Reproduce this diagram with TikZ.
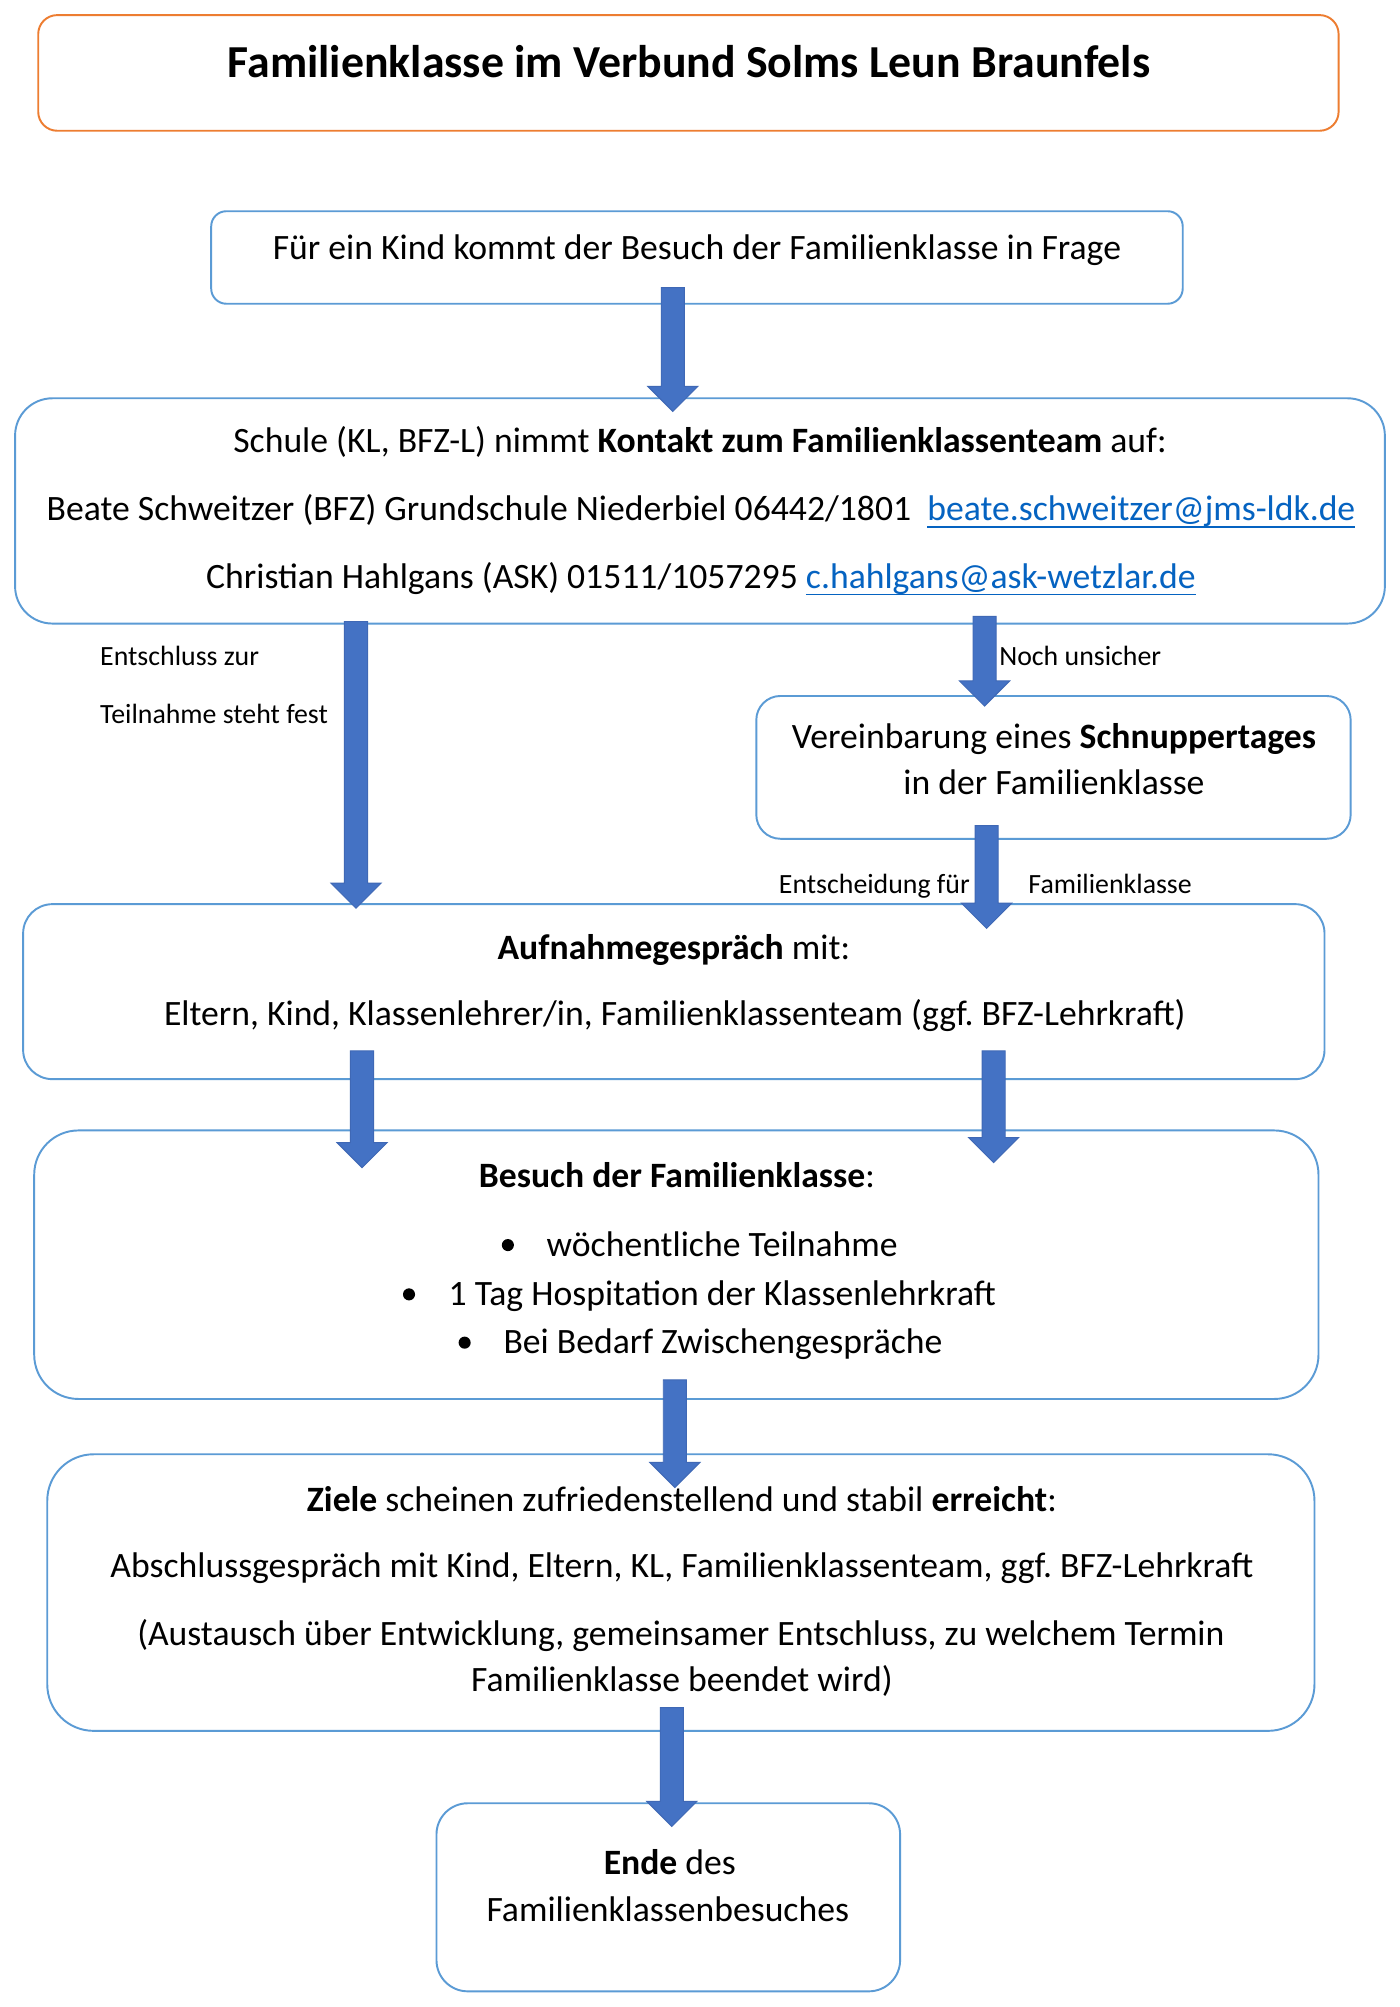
\documentclass[tikz,border=0pt]{standalone}
\usepackage{fontspec}
\setmainfont{Carlito}
\usetikzlibrary{calc}
\newcommand\pxu{0.3125pt}
\definecolor{boxblue}{HTML}{5B9BD5}
\definecolor{titleorange}{HTML}{ED7D31}
\definecolor{arrowfill}{HTML}{4472C4}
\definecolor{arrowline}{HTML}{3F68B5}
\definecolor{linkblue}{HTML}{0563C1}
\newcommand\maillink[1]{{\color{linkblue}\setbox0\hbox{#1}\rlap{\rule[-2.2pt]{\wd0}{0.6pt}}\box0}}
\frenchspacing
\begin{document}
\frenchspacing
\begin{tikzpicture}[x=0.3125pt,y=-0.3125pt,
  frame/.style n args={3}{draw=boxblue, line width=0.6pt, rounded corners=#3,
     minimum width=#1*\pxu, minimum height=#2*\pxu, inner sep=0pt, fill=white},
  body/.style={anchor=base, inner sep=0pt, font=\fontsize{11.08pt}{13.4pt}\selectfont},
  bodyw/.style={body, anchor=base west},
  bulletdot/.style={circle, fill=black, inner sep=0pt, minimum size=12*\pxu},
  lbl/.style={anchor=base west, inner sep=0pt, font=\fontsize{8.65pt}{10pt}\selectfont},
  titletext/.style={anchor=base, inner sep=0pt, font=\fontsize{14.23pt}{17pt}\selectfont\bfseries},
  blockarrow/.style={fill=arrowfill, draw=arrowline, line width=0.3pt,
    to path={let \p1=(\tikztostart), \p2=(\tikztotarget) in
      (\x1-3.6pt,\y1) -- (\x1-3.6pt,\y2+7.8pt) -- (\x1-7.8pt,\y2+7.8pt) -- (\x1,\y2)
      -- (\x1+7.8pt,\y2+7.8pt) -- (\x1+3.6pt,\y2+7.8pt) -- (\x1+3.6pt,\y1) -- cycle}}
]
\fill[white] (0,0) rectangle (1392,1995.6);
\useasboundingbox (0,0) rectangle (1392,1995.6);

% boxes
\node[frame={1293}{115}{5.9pt}, draw=titleorange] (title) at (684.5,72.5) {};
\node[frame={966}{92}{4.7pt}] (b1) at (693,256) {};
\node[frame={1362}{224}{11.6pt}] (b2) at (696,508) {};
\node[frame={591}{142}{7.5pt}] (b3) at (1047.5,763) {};
\node[frame={1294}{174}{9.1pt}] (b4) at (670,986) {};
\node[frame={1277}{267}{13.75pt}] (b5) at (672.5,1257.5) {};
\node[frame={1260}{275}{14.4pt}] (b6) at (677,1583.5) {};
\node[frame={461}{187}{9.7pt}] (b7) at (664.5,1886.5) {};

% texts
\node[titletext] (t0) at (685,77) {Familienklasse im Verbund Solms Leun Braunfels};
\node[body] (t1) at (693,258) {Für ein Kind kommt der Besuch der Familienklasse in Frage};
\node[body] (t2a) at (696,450) {Schule (KL, BFZ-L) nimmt \textbf{Kontakt zum Familienklassenteam} auf:};
\node[body] (t2b) at (697,518) {Beate Schweitzer (BFZ) Grundschule Niederbiel 06442/1801~ \maillink{beate.schweitzer@jms-ldk.de}};
\node[body] (t2c) at (697,585) {Christian Hahlgans (ASK) 01511/1057295 \maillink{c.hahlgans@ask-wetzlar.de}};
\node[lbl] (l1a) at (99,662) {Entschluss zur};
\node[lbl] (l1b) at (99,719) {Teilnahme steht fest};
\node[lbl] (l2) at (993,662) {Noch unsicher};
\node[body] (t3a) at (1048,744) {Vereinbarung eines \textbf{Schnuppertages}};
\node[body] (t3b) at (1048,790) {in der Familienklasse};
\node[lbl, anchor=base east] (l3a) at (965,888) {Entscheidung für};
\node[lbl] (l3b) at (1022,888) {Familienklasse};
\node[body] (t4a) at (670,954) {\textbf{Aufnahmegespräch} mit:};
\node[body] (t4b) at (671,1020) {Eltern, Kind, Klassenlehrer/in, Familienklassenteam (ggf.\ BFZ-Lehrkraft)};
\node[body] (t5a) at (673,1181) {\textbf{Besuch der Familienklasse}:};
\node[bulletdot] (d1) at (505,1238) {};
\node[bodyw] (t5b) at (543,1249) {wöchentliche Teilnahme};
\node[bulletdot] (d2) at (406.7,1287) {};
\node[bodyw] (t5c) at (445.5,1298) {1 Tag Hospitation der Klassenlehrkraft};
\node[bulletdot] (d3) at (462,1335) {};
\node[bodyw] (t5d) at (500,1346) {Bei Bedarf Zwischengespräche};
\node[body] (t6a) at (678,1503) {\textbf{Ziele} scheinen zufriedenstellend und stabil \textbf{erreicht}:};
\node[body] (t6b) at (678,1569) {Abschlussgespräch mit Kind, Eltern, KL, Familienklassenteam, ggf.\ BFZ-Lehrkraft};
\node[body] (t6c) at (677,1636) {(Austausch über Entwicklung, gemeinsamer Entschluss, zu welchem Termin};
\node[body] (t6d) at (678,1682) {Familienklasse beendet wird)};
\node[body] (t7a) at (666,1864) {\textbf{Ende} des};
\node[body] (t7b) at (664,1911) {Familienklassenbesuches};

% arrows
\path[blockarrow] ($(b1.south)+(-24,-17)$) to ($(b2.north)+(-27,14)$);
\path[blockarrow] ($(b2.south)+(-342,-3)$) to ($(b4.north)+(-316,5)$);
\path[blockarrow] ($(b2.south)+(283,-8)$) to ($(b3.north)+(-68.5,11)$);
\path[blockarrow] ($(b3.south)+(-66.5,-14)$) to ($(b4.north)+(311,25)$);
\path[blockarrow] ($(b4.south)+(-310,-29)$) to ($(b5.north)+(-312.5,38)$);
\path[blockarrow] ($(b4.south)+(318,-29)$) to ($(b5.north)+(315.5,33)$);
\path[blockarrow] ($(b5.south)+(-1.5,-20)$) to ($(b6.north)+(-6,34)$);
\path[blockarrow] ($(b6.south)+(-9,-24)$) to ($(b7.north)+(3.5,24)$);
\end{tikzpicture}
\end{document}
